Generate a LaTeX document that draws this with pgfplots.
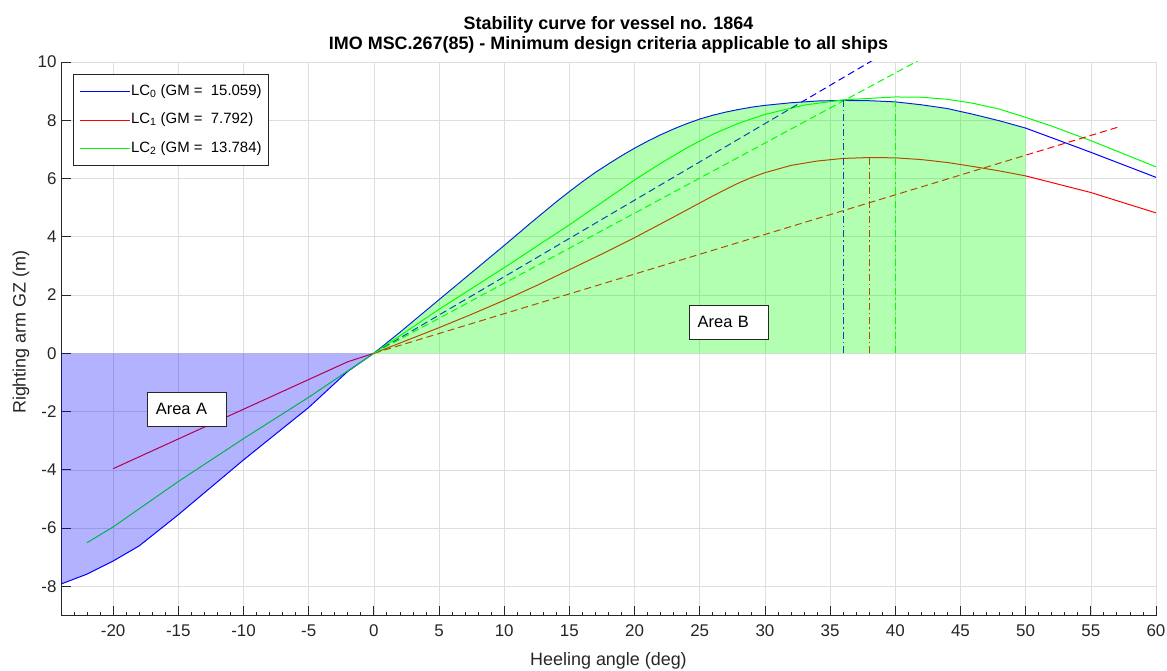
\documentclass[border=0pt]{standalone}
\usepackage{fontspec}
\setmainfont{Liberation Sans}
\usepackage{pgfplots}
\pgfplotsset{compat=1.18}
\definecolor{axgray}{rgb}{0.15,0.15,0.15}
\begin{document}
\begin{tikzpicture}
\path[use as bounding box] (0,0) rectangle (1167bp,671bp);
\begin{axis}[
  at={(61bp,55.5bp)}, anchor=south west, scale only axis,
  width=1095bp, height=553.5bp,
  xmin=-24, xmax=60, ymin=-9, ymax=10,
  axis lines*=left,
  axis line style={-, draw=axgray, line width=0.8bp},
  xtick={-20,-15,...,60}, ytick={-8,-6,...,10},
  minor xtick={-23,...,59},
  grid=major, major grid style={draw=black!13, line width=0.6bp},
  major tick length=10bp, minor tick length=4bp,
  tick style={draw=axgray, line width=0.8bp},
  tick align=inside,
  ticklabel style={font=\fontsize{17}{20}\selectfont, text=axgray},
  xticklabel style={yshift=-6bp},
  yticklabel style={xshift=-1bp},
  /pgf/number format/assume math mode=true,
  legend style={at={(0,1)}, anchor=north west, xshift=12.3bp, yshift=-12.3bp,
    draw=axgray, line width=0.6bp, fill=white, font=\fontsize{15}{18}\selectfont,
    inner xsep=6bp, inner ysep=9bp, row sep=12.5bp,
    nodes={inner sep=0.5bp, text height=11bp, text depth=4bp}},
  legend cell align=left,
  legend image code/.code={\draw[#1] (0bp,0bp) -- (50bp,0bp);},
]
% main curves
\addplot[blue, line width=1bp] coordinates {(-24,-7.92) (-22,-7.58) (-20,-7.13) (-18,-6.61) (-15,-5.54) (-10,-3.66) (-5,-1.86) (-2,-0.62) (0,0) (2,0.72) (5,1.84) (10,3.70) (12,4.46) (14,5.20) (15,5.55) (16,5.89) (17,6.21) (18,6.50) (19,6.78) (20,7.04) (21,7.28) (22,7.50) (23,7.70) (24,7.88) (25,8.04) (26,8.17) (27,8.28) (28,8.37) (29,8.45) (30,8.51) (32,8.60) (34,8.66) (36,8.68) (38,8.67) (40,8.63) (42,8.53) (44,8.40) (46,8.20) (48,7.98) (50,7.73) (52,7.40) (55,6.90) (60,6.04)};
\addlegendentry{LC\textsubscript{0} (GM =\ \ 15.059)}
\addplot[red, line width=1bp] coordinates {(-20,-3.96) (-15,-2.94) (-10,-1.92) (-5,-0.90) (-2,-0.29) (0,0) (2.5,0.44) (5,0.88) (7.5,1.34) (10,1.82) (12.5,2.33) (15,2.87) (17.5,3.41) (20,3.97) (22.5,4.56) (25,5.16) (26,5.40) (27,5.63) (28,5.85) (29,6.04) (30,6.20) (32,6.45) (34,6.60) (36,6.69) (38,6.72) (40,6.71) (42,6.65) (44,6.55) (46,6.41) (48,6.26) (50,6.09) (55,5.52) (60,4.82)};
\addlegendentry{LC\textsubscript{1} (GM =\ \ 7.792)}
\addplot[green, line width=1bp] coordinates {(-22,-6.50) (-20,-5.96) (-15,-4.40) (-10,-2.93) (-5,-1.51) (0,0) (5,1.51) (10,2.94) (15,4.41) (20,5.95) (22,6.52) (24,7.05) (26,7.52) (28,7.90) (30,8.20) (33,8.52) (36,8.70) (40,8.80) (42,8.79) (44,8.72) (46,8.58) (48,8.38) (50,8.10) (52,7.80) (55,7.30) (60,6.40)};
\addlegendentry{LC\textsubscript{2} (GM =\ \ 13.784)}
% GM tangent lines (up to 1 rad)
\addplot[blue, line width=1bp, dash pattern=on 7bp off 4bp, forget plot] coordinates {(0,0) (57.2958,15.059)};
\addplot[red, line width=1bp, dash pattern=on 7bp off 4bp, forget plot] coordinates {(0,0) (57.2958,7.792)};
\addplot[green, line width=1bp, dash pattern=on 7bp off 4bp, forget plot] coordinates {(0,0) (57.2958,13.784)};
% max GZ verticals
\addplot[blue, line width=1bp, dash pattern=on 7bp off 3bp on 1.5bp off 3bp, forget plot] coordinates {(36,0) (36,8.68)};
\addplot[red, line width=1bp, dash pattern=on 7bp off 3bp on 1.5bp off 3bp, forget plot] coordinates {(38,0) (38,6.72)};
\addplot[green, line width=1bp, dash pattern=on 7bp off 3bp on 1.5bp off 3bp, forget plot] coordinates {(40,0) (40,8.80)};
% areas
\addplot[draw=none, fill=blue, fill opacity=0.3, forget plot] coordinates {(-24,0) (-24,-7.92) (-22,-7.58) (-20,-7.13) (-18,-6.61) (-15,-5.54) (-10,-3.66) (-5,-1.86) (-2,-0.62) (0,0)};
\addplot[draw=none, fill=green, fill opacity=0.3, forget plot] coordinates {(0,0) (2,0.72) (5,1.84) (10,3.70) (12,4.46) (14,5.20) (15,5.55) (16,5.89) (17,6.21) (18,6.50) (19,6.78) (20,7.04) (21,7.28) (22,7.50) (23,7.70) (24,7.88) (25,8.04) (26,8.17) (27,8.28) (28,8.37) (29,8.45) (30,8.51) (32,8.60) (34,8.66) (36,8.68) (38,8.67) (40,8.63) (42,8.53) (44,8.40) (46,8.20) (48,7.98) (50,7.73) (50,0)};
\node[draw=axgray, line width=0.7bp, fill=white, minimum height=34bp, text width=63bp, inner xsep=8bp, inner ysep=0bp, align=left, font=\fontsize{16.5}{19}\selectfont] at (axis cs:-14.31,-1.91) {Area A};
\node[draw=axgray, line width=0.7bp, fill=white, minimum height=34bp, text width=63bp, inner xsep=8bp, inner ysep=0bp, align=left, font=\fontsize{16.5}{19}\selectfont] at (axis cs:27.26,1.08) {Area B};
\end{axis}
\node[anchor=base, font=\bfseries\fontsize{18}{20}\selectfont] at (608.5bp,641bp) {Stability curve for vessel no. 1864};
\node[anchor=base, font=\bfseries\fontsize{18}{20}\selectfont] at (608.5bp,621bp) {IMO MSC.267(85) - Minimum design criteria applicable to all ships};
\node[anchor=base, font=\fontsize{18}{20}\selectfont, text=axgray] at (608.5bp,5.5bp) {Heeling angle (deg)};
\node[anchor=base, rotate=90, font=\fontsize{18}{20}\selectfont, text=axgray] at (25.5bp,338.8bp) {Righting arm GZ (m)};
\end{tikzpicture}
\end{document}
